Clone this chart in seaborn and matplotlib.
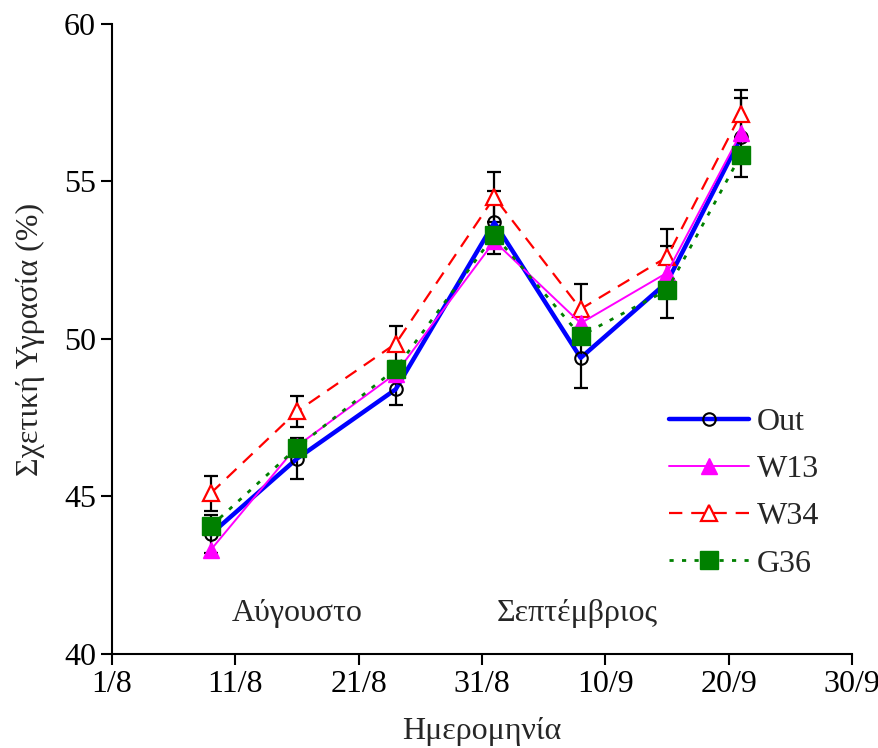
import pandas as pd
import seaborn as sns
import matplotlib.pyplot as plt
import matplotlib.dates as mdates

# data
dates = pd.to_datetime(['2023-08-09', '2023-08-16', '2023-08-24', '2023-09-01',
                        '2023-09-08', '2023-09-15', '2023-09-21'])
out_vals = [43.8, 46.2, 48.4, 53.7, 49.4, 51.8, 56.4]
out_err = [0.6, 0.65, 0.5, 1.0, 0.95, 1.15, 1.25]
w13_vals = [43.3, 46.6, 48.9, 53.1, 50.5, 52.1, 56.55]
w34_vals = [45.1, 47.7, 49.85, 54.5, 50.95, 52.6, 57.15]
w34_err = [0.55, 0.5, 0.55, 0.8, 0.8, 0.9, 0.75]
g36_vals = [44.05, 46.55, 49.05, 53.3, 50.1, 51.55, 55.85]

x_ticks = pd.date_range('2023-08-01', '2023-09-30', freq='10D')
y_ticks = [40, 45, 50, 55, 60]

FS = 23

sns.set_theme(style='ticks')
plt.rcParams['font.family'] = ['Liberation Serif', 'DejaVu Serif']
plt.rcParams['font.size'] = FS

fig, ax = plt.subplots(figsize=(8.79, 7.48), dpi=100)
fig.subplots_adjust(left=0.1274, right=0.9693, bottom=0.1257, top=0.968)

# error bars (Out and W34 only)
ax.errorbar(dates, out_vals, yerr=out_err, fmt='none', ecolor='black',
            elinewidth=1.6, capsize=5, capthick=1.6, zorder=1.5)
ax.errorbar(dates, w34_vals, yerr=w34_err, fmt='none', ecolor='black',
            elinewidth=1.6, capsize=5, capthick=1.6, zorder=1.5)

sns.lineplot(x=dates, y=out_vals, ax=ax, color='#0000ff', lw=3.2, marker='o',
             markersize=9, markerfacecolor='none', markeredgecolor='black',
             markeredgewidth=1.5, label='Out', zorder=2)
sns.lineplot(x=dates, y=w34_vals, ax=ax, color='#ff0000', lw=1.6, linestyle=(0, (6, 4)),
             marker='^', markersize=12, markerfacecolor='white', markeredgecolor='#ff0000',
             markeredgewidth=1.6, label='W34', zorder=3)
sns.lineplot(x=dates, y=w13_vals, ax=ax, color='#ff00ff', lw=1.4, marker='^',
             markersize=12, markerfacecolor='#ff00ff', markeredgecolor='#ff00ff',
             markeredgewidth=1, label='W13', zorder=4)
sns.lineplot(x=dates, y=g36_vals, ax=ax, color='#008000', lw=2, linestyle=(0, (1.5, 3)),
             marker='s', markersize=12.5, markerfacecolor='#008000', markeredgecolor='#008000',
             markeredgewidth=1, label='G36', zorder=5)

ax.set_xlim(x_ticks[0], x_ticks[-1])
ax.set_xticks(x_ticks)
ax.xaxis.set_major_formatter(mdates.DateFormatter('%-d/%-m'))
ax.set_ylim(40, 60)
ax.set_yticks(y_ticks)

for s in ['left', 'bottom']:
    ax.spines[s].set_linewidth(1.5)
    ax.spines[s].set_color('black')
sns.despine(ax=ax)
ax.tick_params(direction='out', length=8, width=1.5, labelsize=FS, colors='black')

ax.set_xlabel('Ημερομηνία', fontsize=FS, labelpad=13)
ax.set_ylabel('Σχετική Υγρασία (%)', fontsize=FS, labelpad=14)

x0 = mdates.date2num(x_ticks[0])
ax.text(x0 + 15, 41.3, 'Αύγουστο', ha='center', va='center', fontsize=FS)
ax.text(x0 + 37.7, 41.3, 'Σεπτέμβριος', ha='center', va='center', fontsize=FS)

handles, labels = ax.get_legend_handles_labels()
order = [labels.index(k) for k in ['Out', 'W13', 'W34', 'G36']]
ax.legend([handles[i] for i in order], [labels[i] for i in order],
          loc='upper left', bbox_to_anchor=(0.714, 0.437), frameon=False,
          handlelength=2.5, labelspacing=0.56, handletextpad=0.25, fontsize=FS)

fig.savefig('out.png', dpi=100)
